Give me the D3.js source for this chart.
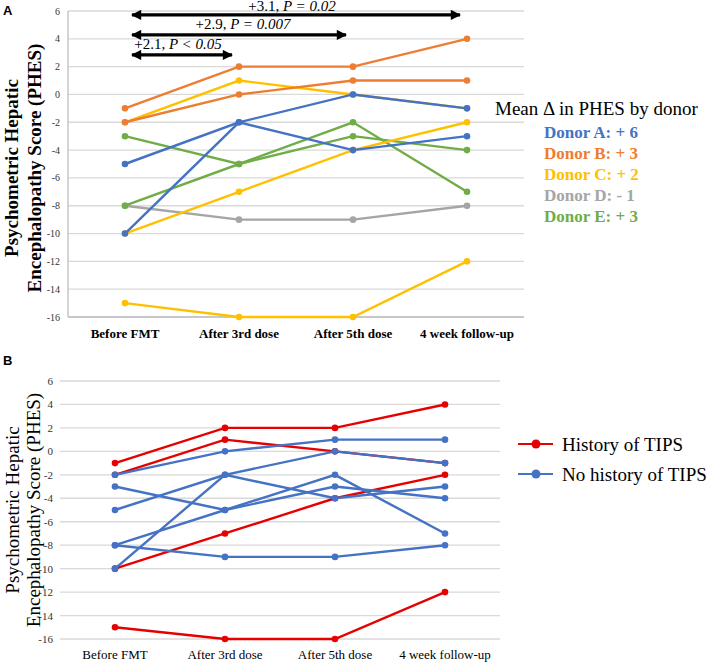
<!DOCTYPE html>
<html>
<head>
<meta charset="utf-8">
<script src="https://cdn.jsdelivr.net/npm/d3@7"></script>
<style>
html,body{margin:0;padding:0;background:#fff;}
svg{display:block;}
text{font-family:"Liberation Serif","Times New Roman",serif;}
</style>
</head>
<body>
<svg id="chart" width="709" height="662"></svg>
<script>
// ---------- data ----------
const categories = ["Before FMT", "After 3rd dose", "After 5th dose", "4 week follow-up"];
const yTicks = [6, 4, 2, 0, -2, -4, -6, -8, -10, -12, -14, -16];
const patientDonor = ["D", "E", "E", "C", "C", "C", "B", "B", "A", "A"];
const patientTIPS  = [false, false, false, true, true, true, true, false, false, false];
const scoreBefore  = [-8, -3, -8, -2, -10, -15, -1, -2, -5, -10];
const scoreDose3   = [-9, -5, -5, 1, -7, -16, 2, 0, -2, -2];
const scoreDose5   = [-9, -2, -3, 0, -4, -16, 2, 1, -4, 0];
const scoreFollow  = [-8, -7, -4, -1, -2, -12, 4, 1, -3, -1];
const donorNames   = ["A", "B", "C", "D", "E"];
const donorMeanChange = ["+ 6", "+ 3", "+ 2", "- 1", "+ 3"];
const comparisons = [
  {to: 3, change: "+3.1", p: "P = 0.02"},
  {to: 2, change: "+2.9", p: "P = 0.007"},
  {to: 1, change: "+2.1", p: "P < 0.05"}
];
const tipsLabels = ["History of TIPS", "No history of TIPS"];

const donorColor = {A: "#4472C4", B: "#ED7D31", C: "#FFC000", D: "#A5A5A5", E: "#70AD47"};
const tipsColor = {true: "#E60000", false: "#4472C4"};

const patients = patientDonor.map((d, i) => ({
  donor: d, tips: patientTIPS[i],
  values: [scoreBefore[i], scoreDose3[i], scoreDose5[i], scoreFollow[i]]
}));

const svg = d3.select("#chart");

// ---------- Panel A ----------
const xA = d3.scalePoint().domain(categories).range([68, 524]).padding(0.5);
const yA = d3.scaleLinear().domain([-16, 6]).range([317, 11]);
const gA = svg.append("g");

gA.append("g").selectAll("line").data(yTicks).join("line")
  .attr("x1", 68).attr("x2", 524)
  .attr("y1", d => yA(d)).attr("y2", d => yA(d))
  .attr("stroke", "#d9d9d9").attr("stroke-width", 1.3);
gA.append("line").attr("x1", 68).attr("x2", 68).attr("y1", yA(6)).attr("y2", yA(-16))
  .attr("stroke", "#bfbfbf").attr("stroke-width", 1.3);
gA.append("line").attr("x1", 68).attr("x2", 524).attr("y1", yA(-16)).attr("y2", yA(-16))
  .attr("stroke", "#bfbfbf").attr("stroke-width", 1.3);

gA.append("g").selectAll("text").data(yTicks).join("text")
  .attr("x", 60).attr("y", d => yA(d) + 3.5)
  .attr("text-anchor", "end").attr("font-size", 10).attr("fill", "#333")
  .text(d => d);

gA.append("g").selectAll("text").data(categories).join("text")
  .attr("x", d => xA(d)).attr("y", 338)
  .attr("text-anchor", "middle").attr("font-size", 13).attr("font-weight", "bold")
  .text(d => d);

const lineA = d3.line().x((v, i) => xA(categories[i])).y(v => yA(v));
const sA = gA.append("g").selectAll("g").data(patients).join("g");
sA.append("path").attr("d", d => lineA(d.values)).attr("fill", "none")
  .attr("stroke", d => donorColor[d.donor]).attr("stroke-width", 2.4);
sA.selectAll("circle").data(d => d.values.map((v, i) => ({v, i, c: donorColor[d.donor]}))).join("circle")
  .attr("cx", d => xA(categories[d.i])).attr("cy", d => yA(d.v)).attr("r", 3.3)
  .attr("fill", d => d.c);

// arrows
const defs = svg.append("defs");
defs.append("marker").attr("id", "ah").attr("viewBox", "0 0 10 10")
  .attr("refX", 9).attr("refY", 5).attr("markerWidth", 3.4).attr("markerHeight", 3.2)
  .attr("orient", "auto-start-reverse").attr("markerUnits", "strokeWidth")
  .append("path").attr("d", "M0,0 L10,5 L0,10 Z").attr("fill", "#000");
const arrowLevels = [5.72, 4.28, 2.84];
comparisons.forEach((c, k) => {
  const x1 = xA(categories[0]) - 1, x2 = xA(categories[c.to]) + 1, y = yA(arrowLevels[k]);
  gA.append("line").attr("x1", x1 + 8).attr("x2", x2 - 8).attr("y1", y).attr("y2", y)
    .attr("stroke", "#000").attr("stroke-width", 3.2)
    .attr("marker-start", "url(#ah)").attr("marker-end", "url(#ah)");
  const t = gA.append("text").attr("x", (x1 + x2) / 2 - 4 + (k === 1 ? 8 : 0)).attr("y", y - (k === 0 ? 4 : 6))
    .attr("text-anchor", "middle").attr("font-size", 15);
  t.append("tspan").text(c.change + ", ");
  t.append("tspan").attr("font-style", "italic").text(c.p);
});

// y-axis title A
const tA = svg.append("text").attr("transform", "translate(18,168) rotate(-90)")
  .attr("text-anchor", "middle").attr("font-size", 19).attr("font-weight", "bold");
tA.append("tspan").attr("x", 0).attr("dy", 0).text("Psychometric Hepatic");
tA.append("tspan").attr("x", 0).attr("dy", 23).text("Encephalopathy Score (PHES)");

// legend A
svg.append("text").attr("x", 495).attr("y", 115).attr("font-size", 19)
  .text("Mean \u0394 in PHES by donor");
svg.append("g").selectAll("text").data(donorNames).join("text")
  .attr("x", 544).attr("y", (d, i) => 138 + i * 21)
  .attr("font-size", 17).attr("font-weight", "bold")
  .attr("fill", d => donorColor[d])
  .text((d, i) => "Donor " + d + ": " + donorMeanChange[i]);

// panel label A
svg.append("text").attr("x", 3).attr("y", 15).attr("font-size", 13).attr("font-weight", "bold")
  .style("font-family", "Liberation Sans, Arial, sans-serif").text("A");

// ---------- Panel B ----------
const xB = d3.scalePoint().domain(categories).range([60, 500]).padding(0.5);
const yB = d3.scaleLinear().domain([-16, 6]).range([639, 381]);
const gB = svg.append("g");

gB.append("g").selectAll("line").data(yTicks).join("line")
  .attr("x1", 60).attr("x2", 500)
  .attr("y1", d => yB(d)).attr("y2", d => yB(d))
  .attr("stroke", "#d9d9d9").attr("stroke-width", 1.3);

gB.append("g").selectAll("text").data(yTicks).join("text")
  .attr("x", 53).attr("y", d => yB(d) + 4)
  .attr("text-anchor", "end").attr("font-size", 11).attr("fill", "#333")
  .text(d => d);

gB.append("g").selectAll("text").data(categories).join("text")
  .attr("x", d => xB(d)).attr("y", 659)
  .attr("text-anchor", "middle").attr("font-size", 13)
  .text(d => d);

const lineB = d3.line().x((v, i) => xB(categories[i])).y(v => yB(v));
const orderedB = patients.filter(p => p.tips).concat(patients.filter(p => !p.tips));
const sB = gB.append("g").selectAll("g").data(orderedB).join("g");
sB.append("path").attr("d", d => lineB(d.values)).attr("fill", "none")
  .attr("stroke", d => tipsColor[d.tips]).attr("stroke-width", 2.4);
sB.selectAll("circle").data(d => d.values.map((v, i) => ({v, i, c: tipsColor[d.tips]}))).join("circle")
  .attr("cx", d => xB(categories[d.i])).attr("cy", d => yB(d.v)).attr("r", 3.3)
  .attr("fill", d => d.c);

// y-axis title B
const tB = svg.append("text").attr("transform", "translate(19,510) rotate(-90)")
  .attr("text-anchor", "middle").attr("font-size", 19);
tB.append("tspan").attr("x", 0).attr("dy", 0).text("Psychometric Hepatic");
tB.append("tspan").attr("x", 0).attr("dy", 21).text("Encephalopathy Score (PHES)");

// legend B
const legB = svg.append("g").selectAll("g").data(tipsLabels).join("g")
  .attr("transform", (d, i) => `translate(518,${444 + i * 30})`);
legB.append("line").attr("x1", 0).attr("x2", 35).attr("y1", 0).attr("y2", 0)
  .attr("stroke", (d, i) => tipsColor[i === 0]).attr("stroke-width", 2.2);
legB.append("circle").attr("cx", 18).attr("cy", 0).attr("r", 4.5)
  .attr("fill", (d, i) => tipsColor[i === 0]);
legB.append("text").attr("x", 44).attr("y", 7).attr("font-size", 19).text(d => d);

// panel label B
svg.append("text").attr("x", 3).attr("y", 365).attr("font-size", 13).attr("font-weight", "bold")
  .style("font-family", "Liberation Sans, Arial, sans-serif").text("B");
</script>
</body>
</html>
